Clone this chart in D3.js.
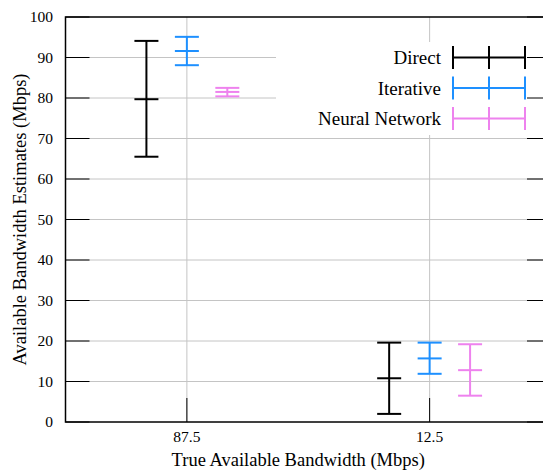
<!DOCTYPE html>
<html>
<head>
<meta charset="utf-8">
<script src="https://cdn.jsdelivr.net/npm/d3@7"></script>
<style>
  html, body { margin: 0; padding: 0; background: #fff; }
  svg { display: block; }
</style>
</head>
<body>
<svg id="chart" width="543" height="475"></svg>
<script>
/* ── Data ─────────────────────────────────────────────── */
const categories = ["87.5", "12.5"];
const seriesNames = ["Direct", "Iterative", "Neural Network"];
const seriesColors = ["#000000", "#1e90ff", "#ee82ee"];

const directMean = [79.7, 10.8];
const directLow = [65.5, 2.0];
const directHigh = [94.1, 19.6];

const iterativeMean = [91.6, 15.7];
const iterativeLow = [88.1, 11.9];
const iterativeHigh = [95.1, 19.6];

const neuralMean = [81.5, 12.8];
const neuralLow = [80.4, 6.5];
const neuralHigh = [82.5, 19.2];

const yTicks = [0, 10, 20, 30, 40, 50, 60, 70, 80, 90, 100];

/* ── Layout ───────────────────────────────────────────── */
const FONT = "'Liberation Serif', 'Times New Roman', Times, serif";
const svg = d3.select("#chart").attr("font-family", FONT);
const L = 65.5, R = 551, T = 17, B = 422;
const tickLen = 24, capHalf = 12;

const x = d3.scaleLinear().domain([0, categories.length]).range([L, R]);
const y = d3.scaleLinear().domain([0, 100]).range([B, T]);
const offsets = [-1 / 6, 0, 1 / 6];

const series = [
  { mean: directMean, low: directLow, high: directHigh },
  { mean: iterativeMean, low: iterativeLow, high: iterativeHigh },
  { mean: neuralMean, low: neuralLow, high: neuralHigh }
];

/* ── Grid ─────────────────────────────────────────────── */
const grid = svg.append("g").attr("stroke", "#c4c4c4").attr("stroke-width", 1);
yTicks.filter(v => v > 0 && v < 100).forEach(v => {
  grid.append("line").attr("x1", L).attr("x2", R).attr("y1", y(v)).attr("y2", y(v));
});
categories.forEach((c, i) => {
  grid.append("line").attr("x1", x(i + 0.5)).attr("x2", x(i + 0.5)).attr("y1", T).attr("y2", B);
});

/* ── Legend background ───────────────────────────────── */
svg.append("rect").attr("x", 276).attr("y", 42).attr("width", 300).attr("height", 93).attr("fill", "#fff");

/* ── Error bars ───────────────────────────────────────── */
series.forEach((s, si) => {
  const g = svg.append("g").attr("stroke", seriesColors[si]).attr("stroke-width", 2);
  categories.forEach((c, ci) => {
    const cx = x(ci + 0.5 + offsets[si]);
    g.append("line").attr("x1", cx).attr("x2", cx).attr("y1", y(s.low[ci])).attr("y2", y(s.high[ci]));
    [s.low[ci], s.mean[ci], s.high[ci]].forEach(v => {
      g.append("line").attr("x1", cx - capHalf).attr("x2", cx + capHalf).attr("y1", y(v)).attr("y2", y(v));
    });
  });
});

/* ── Ticks + border ───────────────────────────────────── */
const ticks = svg.append("g").attr("stroke", "#000").attr("stroke-width", 1);
yTicks.forEach(v => {
  ticks.append("line").attr("x1", L).attr("x2", L + tickLen).attr("y1", y(v)).attr("y2", y(v));
  ticks.append("line").attr("x1", R - tickLen).attr("x2", R).attr("y1", y(v)).attr("y2", y(v));
});
categories.forEach((c, i) => {
  ticks.append("line").attr("x1", x(i + 0.5)).attr("x2", x(i + 0.5)).attr("y1", B).attr("y2", B - tickLen);
});
svg.append("rect").attr("x", L).attr("y", T).attr("width", R - L).attr("height", B - T)
  .attr("fill", "none").attr("stroke", "#000").attr("stroke-width", 1.5);

/* ── Tick labels ──────────────────────────────────────── */
yTicks.forEach(v => {
  svg.append("text").attr("x", 53).attr("y", y(v)).attr("dy", "0.35em")
    .attr("font-family", FONT).attr("text-anchor", "end").attr("font-size", 15.5).text(v);
});
categories.forEach((c, i) => {
  svg.append("text").attr("x", x(i + 0.5)).attr("y", 442)
    .attr("font-family", FONT).attr("text-anchor", "middle").attr("font-size", 15.5).text(c);
});

/* ── Axis titles ──────────────────────────────────────── */
svg.append("text").attr("x", (L + 543) / 2 - 6).attr("y", 466).attr("text-anchor", "middle")
  .attr("font-family", FONT).attr("font-size", 18.5).text("True Available Bandwidth (Mbps)");
svg.append("text").attr("transform", `translate(26,${(T + B) / 2}) rotate(-90)`)
  .attr("font-family", FONT).attr("text-anchor", "middle").attr("font-size", 18.5)
  .text("Available Bandwidth Estimates (Mbps)");

/* ── Legend ───────────────────────────────────────────── */
const legRows = [57.5, 88, 118.5];
seriesNames.forEach((name, i) => {
  const ly = legRows[i];
  svg.append("text").attr("x", 441).attr("y", ly).attr("dy", "0.35em")
    .attr("font-family", FONT).attr("text-anchor", "end").attr("font-size", 19).text(name);
  const g = svg.append("g").attr("stroke", seriesColors[i]).attr("stroke-width", 2);
  g.append("line").attr("x1", 453).attr("x2", 525).attr("y1", ly).attr("y2", ly);
  [453, 489, 525].forEach(lx => {
    g.append("line").attr("x1", lx).attr("x2", lx).attr("y1", ly - 11.5).attr("y2", ly + 11.5);
  });
});
</script>
</body>
</html>
